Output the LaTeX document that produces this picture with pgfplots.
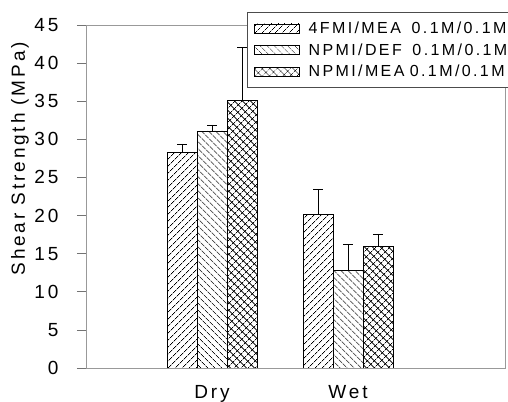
\documentclass[border=0pt]{standalone}
\usepackage{pgfplots}
\pgfplotsset{compat=1.18}
\usepackage{fontspec}
\setmainfont{Liberation Sans}
\newfontfamily\spaced[LetterSpace=15]{Liberation Sans}
\usetikzlibrary{patterns.meta,calc}
\begin{document}
\begin{tikzpicture}
\begin{axis}[name=ax,
  at={(0,0)}, anchor=south west,
  scale only axis, width=419bp, height=343bp,
  xmin=0.0735, xmax=3.154, ymin=0, ymax=45,
  ybar=0pt, bar width=30bp,
  xtick={1,2}, xticklabels={Dry,Wet},
  ytick={0,5,...,45},
  /pgf/number format/assume math mode=true,
  tick label style={font=\fontsize{19bp}{21bp}\spaced, black},
  x tick style={draw=none},
  y tick style={gray!90!black, line width=0.6pt},
  tick align=outside, major tick length=9bp,
  ytick pos=left, xtick pos=bottom,
  axis line style={gray!80, line width=0.8pt},
  xticklabel style={yshift=-5bp},
  yticklabel style={xshift=-15bp},
  ylabel={Shear Strength (MPa)},
  ylabel style={at={(axis description cs:-0.1575,0.61)}, anchor=center, font=\fontsize{19bp}{21bp}\spaced},
  every axis plot/.append style={draw=black, line width=0.6pt, pattern color=black},
  error bars/y dir=plus, error bars/y explicit,
  error bars/error bar style={black, line width=0.6pt},
  error bars/error mark options={rotate=90, mark size=5bp, black, line width=0.6pt},
  legend image code/.code={\draw[#1, /tikz/.cd, bar shift=0pt, yshift=0pt] (0bp,-4.5bp) rectangle (45bp,4.5bp); \pgfpathmoveto{\pgfpoint{52bp}{0bp}}\pgfusepath{use as bounding box}},
  legend style={at={(rel axis cs:0.384,1.038)}, anchor=north west,
    draw=gray!60!black, line width=0.8pt, fill=white,
    font=\fontsize{16bp}{18bp}\spaced,
    inner xsep=7bp, inner ysep=7.5bp, row sep=4.5bp,
    text width=220bp,
    cells={anchor=west}},
]
\addplot[pattern={Lines[angle=45,distance=5.2bp,line width=0.6pt]}]
  coordinates {(1,28.3) +- (0,1.1) (2,20.2) +- (0,3.2)};
\addplot[pattern={Lines[angle=-45,distance=5.2bp,line width=0.6pt]}]
  coordinates {(1,31.1) +- (0,0.8) (2,12.8) +- (0,3.4)};
\addplot[pattern={Hatch[angle=45,distance=5.2bp,line width=0.6pt]}]
  coordinates {(1,35.1) +- (0,7.0) (2,16.0) +- (0,1.6)};
\legend{4FMI/MEA\ \ 0.1M/0.1M, NPMI/DEF\ \ 0.1M/0.1M, NPMI/MEA 0.1M/0.1M}
\end{axis}
\pgfresetboundingbox
\path ($(ax.south west)+(-86bp,-34bp)$) rectangle ($(ax.south west)+(422bp,368bp)$);
\end{tikzpicture}
\end{document}
